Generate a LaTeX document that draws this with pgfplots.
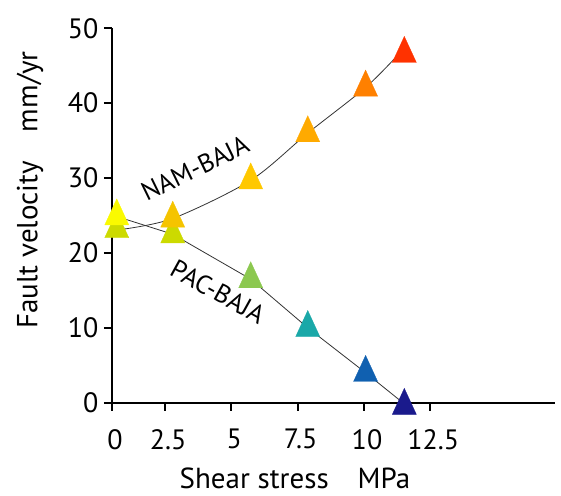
\documentclass[border=0pt]{standalone}
\usepackage{pgfplots}
\pgfplotsset{compat=1.18}
\usepackage{fontspec}
\setmainfont{PT Sans}
\definecolor{nA}{RGB}{204,218,0}
\definecolor{nB}{RGB}{245,196,0}
\definecolor{nC}{RGB}{255,200,0}
\definecolor{nD}{RGB}{255,170,0}
\definecolor{nE}{RGB}{255,128,0}
\definecolor{nF}{RGB}{255,50,0}
\definecolor{pA}{RGB}{250,250,0}
\definecolor{pB}{RGB}{204,218,0}
\definecolor{pC}{RGB}{140,200,80}
\definecolor{pD}{RGB}{26,168,168}
\definecolor{pE}{RGB}{16,96,176}
\definecolor{pF}{RGB}{26,26,140}
\begin{document}
\begin{tikzpicture}
\path[use as bounding box] (-112bp,-93.3bp) rectangle (449bp,402.7bp);
\begin{axis}[
  at={(0,0)}, anchor=south west,
  scale only axis, width=443bp, height=374.4bp,
  xmin=0.5, xmax=17.2, ymin=0, ymax=50,
  axis x line=bottom, axis y line=left,
  axis line style={-, line width=2.4bp, black},
  tick style={line width=2bp, black},
  major tick length=8bp, tick align=outside,
  xtick={0.5,2.5,5,7.5,10,12.5},
  xticklabels={0,2.5,5,7.5,10,12.5},
  ytick={0,10,20,30,40,50},
  /pgf/number format/assume math mode=true,
  ticklabel style={font=\fontsize{28bp}{30bp}\selectfont},
  xticklabel style={xshift=3bp, yshift=-15bp},
  yticklabel style={xshift=-2bp},
  clip=false,
  xlabel={Shear stress\quad MPa},
  ylabel={Fault velocity\quad mm/yr},
  label style={font=\fontsize{29bp}{32bp}\selectfont},
  xlabel style={at={(rel axis cs:0.413,-0.203)}, anchor=center},
  ylabel style={at={(rel axis cs:-0.185,0.568)}, anchor=center},
  tri/.style={only marks, mark=triangle*, mark size=13.9bp,
    mark options={yscale=1.25, draw=#1, fill=#1, line width=0.3bp}},
]
% markers (order controls overlap)
\addplot[tri=nA] coordinates {(0.68,23.2)};
\addplot[tri=pA] coordinates {(0.68,24.9)};
\addplot[tri=pB] coordinates {(2.79,22.5)};
\addplot[tri=nB] coordinates {(2.79,24.6)};
\addplot[tri=nC] coordinates {(5.73,29.7)};
\addplot[tri=nD] coordinates {(7.88,36.0)};
\addplot[tri=nE] coordinates {(10.06,42.1)};
\addplot[tri=nF] coordinates {(11.52,46.6)};
\addplot[tri=pC] coordinates {(5.73,16.5)};
\addplot[tri=pD] coordinates {(7.88,10.0)};
\addplot[tri=pE] coordinates {(10.06,4.0)};
\addplot[tri=pF] coordinates {(11.52,-0.4)};
% connecting lines
\addplot[no marks, smooth, line width=0.8bp, black!80] coordinates {
 (0.77,23.1) (2.79,24.6) (5.73,29.7) (7.88,36.0) (10.06,42.1) (11.35,46.7)};
\addplot[no marks, line width=0.8bp, black!80] coordinates {
 (0.83,24.7) (2.79,22.5) (5.73,16.5) (7.88,10.0) (10.06,4.0) (11.64,-0.5)};
\node[rotate=26, font=\fontsize{26bp}{28bp}\selectfont] at (axis cs:3.63,31.3) {NAM-BAJA};
\node[rotate=-29, font=\fontsize{26bp}{28bp}\selectfont] at (axis cs:4.49,14.8) {PAC-BAJA};
\end{axis}
\end{tikzpicture}
\end{document}
